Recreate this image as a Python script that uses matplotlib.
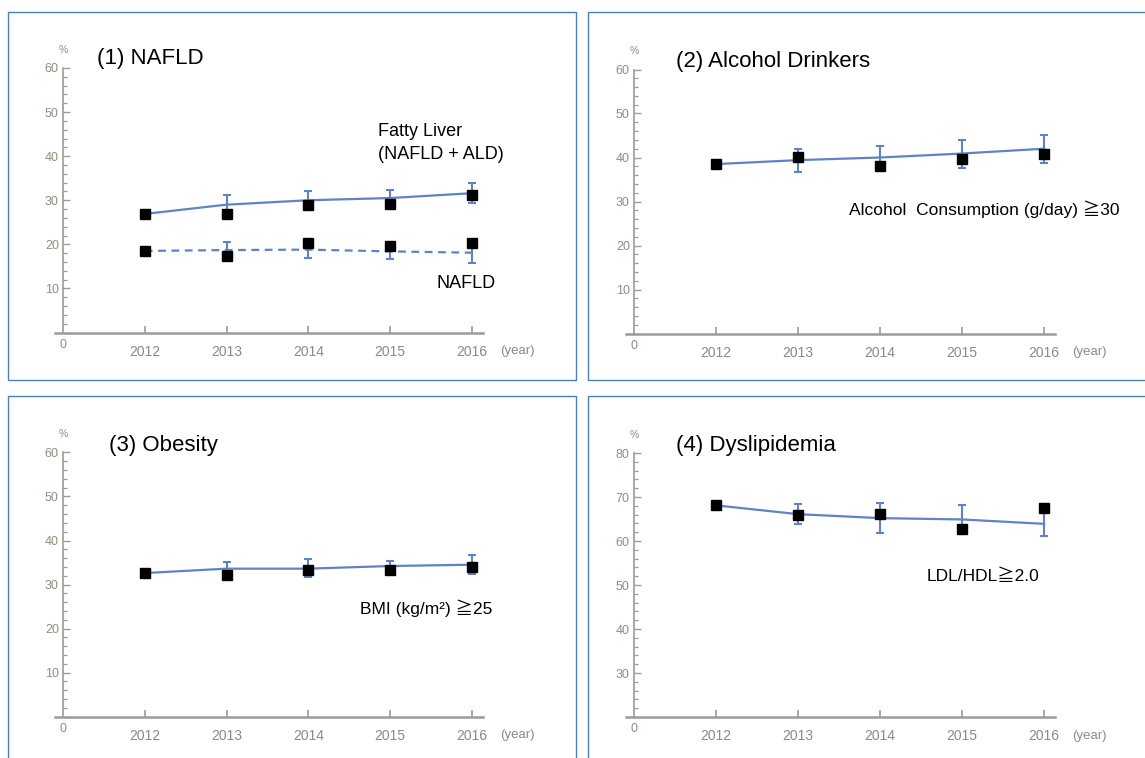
import numpy as np
import matplotlib
matplotlib.use("Agg")
import matplotlib.pyplot as plt
from matplotlib.patches import Rectangle
from matplotlib.ticker import MultipleLocator, FixedLocator

plt.rcParams['font.family'] = ['Liberation Sans', 'Noto Sans CJK JP', 'DejaVu Sans']

years = [2012, 2013, 2014, 2015, 2016]
year_labels = ['2012', '2013', '2014', '2015', '2016']

# (1) NAFLD -- fatty liver (NAFLD + ALD): fitted trend, 95% band, observed
fatty_trend = [26.9, 29.0, 30.0, 30.5, 31.6]
fatty_lo = [np.nan, 27.0, 28.0, 28.9, 29.4]
fatty_hi = [np.nan, 31.1, 32.1, 32.3, 33.8]
fatty_obs = [26.9, 26.9, 28.9, 29.2, 31.1]

# (1) NAFLD only
nafld_trend = [18.5, 18.7, 18.8, 18.4, 18.1]
nafld_lo = [np.nan, 17.1, 17.0, 16.6, 15.8]
nafld_hi = [np.nan, 20.5, 20.6, 20.2, 20.3]
nafld_obs = [18.5, 17.4, 20.2, 19.7, 20.2]

# (2) Alcohol drinkers
alcohol_trend = [38.5, 39.4, 40.0, 40.9, 42.0]
alcohol_lo = [np.nan, 36.8, 37.5, 37.6, 38.8]
alcohol_hi = [np.nan, 42.0, 42.7, 44.0, 45.1]
alcohol_obs = [38.5, 40.1, 38.0, 39.6, 40.8]

# (3) Obesity
obesity_trend = [32.6, 33.6, 33.6, 34.2, 34.5]
obesity_lo = [np.nan, 32.6, 31.8, 32.8, 32.3]
obesity_hi = [np.nan, 35.2, 35.7, 35.4, 36.7]
obesity_obs = [32.6, 32.2, 33.2, 33.2, 33.9]

# (4) Dyslipidemia
dys_trend = [68.1, 66.1, 65.2, 64.9, 63.9]
dys_lo = [np.nan, 63.8, 61.9, 61.6, 61.2]
dys_hi = [np.nan, 68.4, 68.6, 68.2, 66.6]
dys_obs = [68.1, 65.8, 66.1, 62.8, 67.4]

LINE = '#5f83c4'
AXIS = '#9b9b9b'
LABEL = '#8a8a8a'
YLABEL = '#958a7e'
FRAME = '#4f7fb8'

W, H = 1145, 758
fig = plt.figure(figsize=(W / 100, H / 100), dpi=100)
fig.patch.set_facecolor('white')


def px_axes(left_px, right_px, bottom_px, top_px):
    return fig.add_axes([left_px / W, 1 - bottom_px / H,
                         (right_px - left_px) / W, (bottom_px - top_px) / H])


def frame(x0, y0, x1, y1):
    fig.add_artist(Rectangle((x0 / W, 1 - y1 / H), (x1 - x0) / W, (y1 - y0) / H,
                             transform=fig.transFigure, fill=False,
                             edgecolor=FRAME, linewidth=1.0))


def series(ax, trend, lo, hi, obs, ls='-'):
    trend = np.asarray(trend, float)
    lo = np.asarray(lo, float)
    hi = np.asarray(hi, float)
    line, = ax.plot(years, trend, color=LINE, lw=1.6, zorder=2)
    if ls == '--':
        line.set_dashes((3.5, 2.5))
    err = np.vstack([trend - lo, hi - trend])
    ax.errorbar(years, trend, yerr=err, fmt='none', ecolor=LINE,
                elinewidth=1.5, capsize=3, capthick=1.5, zorder=2)
    ax.plot(years, obs, ls='none', marker='s', ms=6.5, color='black', zorder=3)


def setup(ax, ymin, ymax, ylabels):
    ax.set_xlim(2010.9, 2016.13)
    ax.set_ylim(ymin, ymax)
    ax.patch.set_visible(False)
    for s in ('top', 'right'):
        ax.spines[s].set_visible(False)
    ax.spines['left'].set_position(('data', 2011))
    ax.spines['left'].set_color(AXIS)
    ax.spines['left'].set_linewidth(1.2)
    ax.spines['bottom'].set_color(AXIS)
    ax.spines['bottom'].set_linewidth(1.8)
    ax.set_xticks(years)
    ax.set_xticklabels(year_labels)
    ax.yaxis.set_major_locator(FixedLocator(ylabels))
    ax.set_yticklabels([str(v) for v in ylabels])
    ax.yaxis.set_minor_locator(MultipleLocator(2))
    ax.tick_params(axis='x', direction='in', length=5, width=1.2, color=AXIS,
                   labelsize=10, labelcolor=LABEL, pad=9)
    ax.tick_params(axis='y', which='major', direction='in', length=5, width=1.0,
                   color=AXIS, labelsize=9, labelcolor=YLABEL, pad=3)
    ax.tick_params(axis='y', which='minor', direction='in', length=3, width=0.9,
                   color=AXIS)
    ax.annotate('0', xy=(2011, ymin), xytext=(0, -9), textcoords='offset points',
                ha='center', va='center', fontsize=9, color=YLABEL)
    ax.annotate('%', xy=(2011, ymax), xytext=(0, 13), textcoords='offset points',
                ha='center', va='center', fontsize=7.5, color=LABEL)
    ax.annotate('(year)', xy=(2016, ymin), xytext=(33, -13.5), textcoords='offset points',
                ha='center', va='center', fontsize=9.5, color=LABEL,
                annotation_clip=False)


# panel frames
frame(8, 12, 576, 380)
frame(588, 12, 1150, 380)
frame(8, 396, 576, 765)
frame(588, 396, 1150, 765)

# (1) NAFLD
ax1 = px_axes(54.8, 482.6, 332.5, 68)
setup(ax1, 0, 60, [10, 20, 30, 40, 50, 60])
series(ax1, fatty_trend, fatty_lo, fatty_hi, fatty_obs)
series(ax1, nafld_trend, nafld_lo, nafld_hi, nafld_obs, ls='--')
ax1.text(2011.42, 62.1, '(1) NAFLD', fontsize=16, va='center', ha='left', clip_on=False)
ax1.text(2014.85, 43.0, 'Fatty Liver\n(NAFLD + ALD)', fontsize=13, va='center',
         ha='left', linespacing=1.4)
ax1.text(2015.57, 11.2, 'NAFLD', fontsize=13, va='center', ha='left')

# (2) Alcohol drinkers
ax2 = px_axes(625.8, 1054.7, 333.5, 69.5)
setup(ax2, 0, 60, [10, 20, 30, 40, 50, 60])
series(ax2, alcohol_trend, alcohol_lo, alcohol_hi, alcohol_obs)
ax2.text(2011.51, 61.9, '(2) Alcohol Drinkers', fontsize=16, va='center', ha='left',
         clip_on=False)
ax2.text(2013.62, 28.3, 'Alcohol  Consumption (g/day) \u226730', fontsize=12.5,
         va='center', ha='left', clip_on=False)

# (3) Obesity
ax3 = px_axes(54.8, 482.6, 716.5, 452.5)
setup(ax3, 0, 60, [10, 20, 30, 40, 50, 60])
series(ax3, obesity_trend, obesity_lo, obesity_hi, obesity_obs)
ax3.text(2011.56, 61.7, '(3) Obesity', fontsize=16, va='center', ha='left', clip_on=False)
ax3.text(2014.63, 24.7, 'BMI (kg/m\u00b2) \u226725', fontsize=12.5, va='center', ha='left')

# (4) Dyslipidemia
ax4 = px_axes(625.8, 1054.7, 717, 453)
setup(ax4, 20, 80, [30, 40, 50, 60, 70, 80])
series(ax4, dys_trend, dys_lo, dys_hi, dys_obs)
ax4.text(2011.51, 81.8, '(4) Dyslipidemia', fontsize=16, va='center', ha='left',
         clip_on=False)
ax4.text(2014.57, 52.0, 'LDL/HDL\u22672.0', fontsize=12.5, va='center', ha='left')

fig.savefig('out.png', dpi=100, facecolor='white')
